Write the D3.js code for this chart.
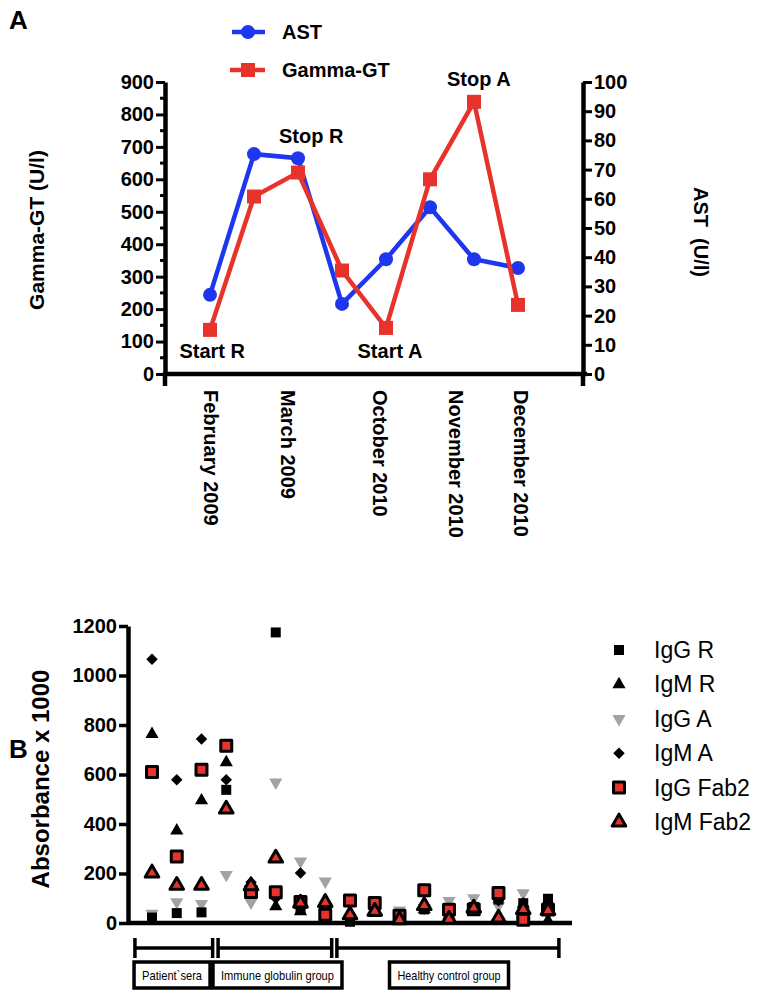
<!DOCTYPE html>
<html><head><meta charset="utf-8">
<script src="https://cdn.jsdelivr.net/npm/d3@7"></script>
<style>body{margin:0;background:#fff}svg{display:block}text{font-family:"Liberation Sans",Arial,sans-serif}</style>
</head><body><svg id="c" width="758" height="995"></svg>
<script>
// ---------- Panel A data ----------
const aIndex = [0,1,2,3,4,5,6,7];
const astValues = [27.1, 75.3, 73.9, 24.0, 39.3, 57.1, 39.3, 36.3];
const ggtValues = [136, 547, 621, 319, 142, 600, 839, 213];
const aTickLabels = ["February 2009","March 2009","October 2010","November 2010","December 2010"];
const aTickPos = [0.02, 1.75, 3.86, 5.57, 7.05];
const annotations = [
  {t:"Start R", i:0.05, v:49},
  {t:"Stop R", i:2.3, v:712},
  {t:"Start A", i:4.09, v:49},
  {t:"Stop A", i:6.11, v:888}
];
const ggtTicks = [0,100,200,300,400,500,600,700,800,900];
const astTicks = [0,10,20,30,40,50,60,70,80,90,100];

// ---------- Panel B data ----------
const bCols = d3.range(1,18);
const igGR   = [22, 40, 43, 538, 120, 1174, 55, 50, 5, 60, 20, 55, 40, 65, 95, 80, 98];
const igMR   = [763, 373, 495, 649, 160, 67, 47, 90, 10, 40, 10, 55, 30, 50, 20, 75, 10];
const igGA   = [38, 85, 78, 195, 83, 568, 249, 168, 20, 70, 51, 60, 90, 101, 70, 121, 70];
const igMA   = [1066, 579, 743, 579, 165, 100, 202, 40, 15, 60, 20, 60, 50, 60, 90, 70, 40];
const igGFab = [610, 269, 619, 716, 125, 124, 85, 33, 91, 81, 29, 132, 54, 55, 121, 13, 54];
const igMFab = [202, 152, 152, 460, 150, 262, 80, 83, 33, 47, 13, 70, 15, 60, 20, 54, 50];
const bTicks = [0,200,400,600,800,1000,1200];
const groupNames = ["Patient`sera","Immune globulin group","Healthy control group"];
const groupFrom = [0.31, 3.67, 8.47];
const groupTo = [3.45, 8.26, 17.44];
const groupLabelAt = [1.81, 6.07, 13.0];
const legendNames = ["IgG R","IgM R","IgG A","IgM A","IgG Fab2","IgM Fab2"];

const svg = d3.select("#c");
const BLUE = "#1f36ef", RED = "#e8322c", GREY = "#a3a3a3";
const FONT = '"Liberation Sans",Arial,sans-serif';

// ================= PANEL A =================
svg.append("text").attr("x",9).attr("y",29).attr("font-size",26).attr("font-weight","bold").text("A");

const xA = d3.scaleLinear().domain([0,7]).range([210,518]);
const yG = d3.scaleLinear().domain([0,900]).range([374,82]);
const yS = d3.scaleLinear().domain([0,100]).range([374,82]);
const axL = 165, axR = 583;

const gA = svg.append("g");
const leftAx = gA.append("g").attr("transform",`translate(${axL},0)`)
  .call(d3.axisLeft(yG).tickValues(ggtTicks).tickSize(9).tickSizeOuter(0));
gA.append("g").selectAll("line").data(d3.range(50,900,100)).join("line")
  .attr("x1",axL-5).attr("x2",axL).attr("y1",d=>yG(d)).attr("y2",d=>yG(d))
  .attr("stroke","#000").attr("stroke-width",3);
const rightAx = gA.append("g").attr("transform",`translate(${axR},0)`)
  .call(d3.axisRight(yS).tickValues(astTicks).tickSize(9).tickSizeOuter(0));
[leftAx,rightAx].forEach(a=>{
  a.select(".domain").attr("stroke-width",4.5);
  a.selectAll(".tick line").attr("stroke-width",3);
  a.selectAll(".tick text").attr("font-size",20).attr("font-weight","bold").attr("font-family",FONT).attr("fill","#000");
});
leftAx.selectAll(".tick text").attr("x",-11);
rightAx.selectAll(".tick text").attr("x",11);
gA.append("line").attr("x1",axL).attr("x2",axL).attr("y1",372).attr("y2",386).attr("stroke","#000").attr("stroke-width",4.5);
gA.append("line").attr("x1",axR).attr("x2",axR).attr("y1",372).attr("y2",386).attr("stroke","#000").attr("stroke-width",4.5);
gA.append("line").attr("x1",axL).attr("x2",axR+4).attr("y1",yG(0)).attr("y2",yG(0)).attr("stroke","#000").attr("stroke-width",4.5);
const xAx = gA.append("g").attr("transform",`translate(0,${yG(0)})`)
  .call(d3.axisBottom(xA).tickValues(aTickPos).tickSize(0).tickFormat((d,i)=>aTickLabels[i]));
xAx.select(".domain").remove();
xAx.selectAll(".tick text").attr("font-size",20).attr("font-weight","bold").attr("font-family",FONT).attr("fill","#000")
  .attr("text-anchor","start").attr("transform","rotate(90)").attr("x",16).attr("y",0).attr("dy","0.35em");

svg.append("text").attr("transform","translate(44,230) rotate(-90)").attr("text-anchor","middle")
  .attr("font-size",21).attr("font-weight","bold").text("Gamma-GT (U/l)");
svg.append("text").attr("transform","translate(694,232) rotate(90)").attr("text-anchor","middle")
  .attr("font-size",20).attr("font-weight","bold").attr("xml:space","preserve").text("AST  (U/l)");

const lineAst = d3.line().x((d,i)=>xA(aIndex[i])).y(d=>yS(d));
const lineGgt = d3.line().x((d,i)=>xA(aIndex[i])).y(d=>yG(d));
gA.append("path").attr("d",lineAst(astValues)).attr("fill","none").attr("stroke",BLUE).attr("stroke-width",4.5);
gA.selectAll(".ac").data(astValues).join("circle").attr("cx",(d,i)=>xA(aIndex[i])).attr("cy",d=>yS(d)).attr("r",7).attr("fill",BLUE);
gA.append("path").attr("d",lineGgt(ggtValues)).attr("fill","none").attr("stroke",RED).attr("stroke-width",4.5);
gA.selectAll(".gs").data(ggtValues).join("rect").attr("x",(d,i)=>xA(aIndex[i])-7).attr("y",d=>yG(d)-7).attr("width",14).attr("height",14).attr("fill",RED);

gA.selectAll(".an").data(annotations).join("text").attr("x",d=>xA(d.i)).attr("y",d=>yG(d.v)).attr("text-anchor","middle")
  .attr("font-size",20).attr("font-weight","bold").text(d=>d.t);

const legA = svg.append("g");
legA.append("line").attr("x1",232).attr("x2",265).attr("y1",32).attr("y2",32).attr("stroke",BLUE).attr("stroke-width",4.5);
legA.append("circle").attr("cx",248).attr("cy",32).attr("r",7).attr("fill",BLUE);
legA.append("text").attr("x",282).attr("y",39).attr("font-size",20).attr("font-weight","bold").text("AST");
legA.append("line").attr("x1",230).attr("x2",265).attr("y1",70).attr("y2",70).attr("stroke",RED).attr("stroke-width",4.5);
legA.append("rect").attr("x",241).attr("y",63).attr("width",14).attr("height",14).attr("fill",RED);
legA.append("text").attr("x",282).attr("y",77).attr("font-size",20).attr("font-weight","bold").text("Gamma-GT");

// ================= PANEL B =================
svg.append("text").attr("x",9).attr("y",758).attr("font-size",26).attr("font-weight","bold").text("B");

const xB = d3.scaleLinear().domain([1,17]).range([152,548]);
const yB = d3.scaleLinear().domain([0,1200]).range([923,626]);
const bAxX = 128;
const gB = svg.append("g");
const yAxB = gB.append("g").attr("transform",`translate(${bAxX},0)`)
  .call(d3.axisLeft(yB).tickValues(bTicks).tickSize(9).tickSizeOuter(0).tickFormat(d3.format("d")));
yAxB.select(".domain").attr("stroke-width",4.5);
yAxB.selectAll(".tick line").attr("stroke-width",3.5);
yAxB.selectAll(".tick text").attr("font-size",20).attr("font-weight","bold").attr("font-family",FONT).attr("fill","#000").attr("x",-11);
gB.append("line").attr("x1",bAxX).attr("x2",572).attr("y1",yB(0)).attr("y2",yB(0)).attr("stroke","#000").attr("stroke-width",4.5);
svg.append("text").attr("transform","translate(49,779) rotate(-90)").attr("text-anchor","middle")
  .attr("font-size",24).attr("font-weight","bold").text("Absorbance x 1000");

const sym = {
  igGR: d3.symbol().type(d3.symbolSquare).size(100),
  igMR: d3.symbol().type(d3.symbolTriangle).size(75),
  igGA: d3.symbol().type(d3.symbolTriangle).size(75),
  igMA: d3.symbol().type(d3.symbolSquare).size(66),
  igGFab: d3.symbol().type(d3.symbolSquare).size(120),
  igMFab: d3.symbol().type(d3.symbolTriangle).size(80)
};
const series = [
  {key:"igGA", vals:igGA, fill:GREY, stroke:"none", rot:180},
  {key:"igGR", vals:igGR, fill:"#000", stroke:"none", rot:0},
  {key:"igMR", vals:igMR, fill:"#000", stroke:"none", rot:0},
  {key:"igMA", vals:igMA, fill:"#000", stroke:"none", rot:45},
  {key:"igGFab", vals:igGFab, fill:RED, stroke:"#000", rot:0},
  {key:"igMFab", vals:igMFab, fill:RED, stroke:"#000", rot:0}
];
series.forEach(s=>{
  gB.append("g").selectAll("path").data(s.vals).join("path")
    .attr("d",sym[s.key]())
    .attr("transform",(d,i)=>`translate(${xB(bCols[i])},${yB(d)}) rotate(${s.rot})`)
    .attr("fill",s.fill).attr("stroke",s.stroke).attr("stroke-width",s.stroke==="none"?0:3).attr("stroke-linejoin","round");
});

// group brackets and label boxes
const labelLen = [60, 113, 103];
groupNames.forEach((name,i)=>{
  const x1 = xB(groupFrom[i]), x2 = xB(groupTo[i]), y = 948;
  const g = gB.append("g");
  g.append("line").attr("x1",x1).attr("x2",x2).attr("y1",y).attr("y2",y).attr("stroke","#000").attr("stroke-width",3.5);
  [x1,x2].forEach(x=>g.append("line").attr("x1",x).attr("x2",x).attr("y1",y-10).attr("y2",y+10).attr("stroke","#000").attr("stroke-width",3.5));
  const cx = xB(groupLabelAt[i]);
  g.append("rect").attr("x",cx-labelLen[i]/2-8).attr("y",962).attr("width",labelLen[i]+16).attr("height",26)
    .attr("fill","#fff").attr("stroke","#000").attr("stroke-width",3.5);
  g.append("text").attr("x",cx-labelLen[i]/2).attr("y",980).attr("font-size",13.5)
    .attr("textLength",labelLen[i]).attr("lengthAdjust","spacingAndGlyphs").text(name);
});

const legKeys = ["igGR","igMR","igGA","igMA","igGFab","igMFab"];
const legY = d3.scaleLinear().domain([0,5]).range([650,822]);
legKeys.forEach((k,i)=>{
  const s = series.find(z=>z.key===k);
  svg.append("path").attr("d",sym[k]()).attr("transform",`translate(619,${legY(i)}) rotate(${s.rot})`)
    .attr("fill",s.fill).attr("stroke",s.stroke).attr("stroke-width",s.stroke==="none"?0:3).attr("stroke-linejoin","round");
  svg.append("text").attr("x",654).attr("y",legY(i)+8).attr("font-size",23).text(legendNames[i]);
});
</script></body></html>
